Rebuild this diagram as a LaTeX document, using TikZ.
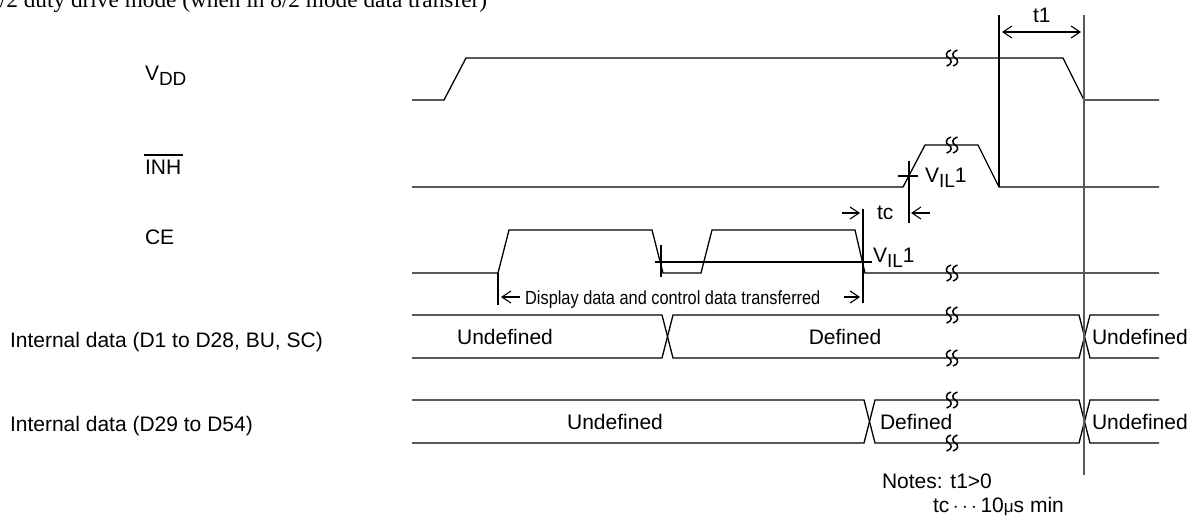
\documentclass[tikz,border=0pt]{standalone}
\usepackage{fontspec}
\setmainfont{Liberation Sans}
\newfontfamily\seriffont{Liberation Serif}
\usetikzlibrary{arrows.meta}
\tikzset{
  sig/.style={line width=1.3pt, line join=miter},
  guide/.style={line width=1.1pt},
  guidegray/.style={line width=1.3pt, draw=black!65},
  lbl/.style={inner sep=0pt, outer sep=0pt, anchor=base west, font=\fontsize{21}{25}\selectfont},
  lblc/.style={inner sep=0pt, outer sep=0pt, anchor=base, font=\fontsize{21}{25}\selectfont},
  barb/.tip={Straight Barb[length=9pt,width=12pt,line width=1.1pt]},
  arr/.style={-barb, line width=1.1pt},
  darr/.style={barb-barb, line width=1.1pt},
  brk/.pic={
    \foreach \dx in {-3.2,3.2}{
      \draw[line width=1.5pt] (\dx+2.2,-8) .. controls (\dx-3.5,-6.5) and (\dx-3.5,-1.5) .. (\dx,0)
        .. controls (\dx+3.5,1.5) and (\dx+3.5,6.5) .. (\dx-2.2,8);
    }
  }
}
\newcommand{\lsub}[1]{\raisebox{-5pt}{\fontsize{19}{22}\selectfont #1}}
\begin{document}
\begin{tikzpicture}[x=1pt,y=-1pt]
\useasboundingbox (0,0) rectangle (1200,517);
% title (partly cut off at the top)
\node[inner sep=0pt, anchor=base west, font=\seriffont\fontsize{23.3}{27}\selectfont] (title) at (-12,7) {1/2 duty drive mode (when in 8/2 mode data transfer)};

% signal labels
\node[lbl] (lvdd) at (145,80) {V\lsub{DD}};
\node[lbl] (linh) at (145,174) {INH};
\draw[line width=1.1pt] (144,155) -- (183,155);
\node[lbl] (lce) at (145,244) {CE};
\node[lbl] (lint1) at (10,347) {Internal data (D1 to D28, BU, SC)};
\node[lbl] (lint2) at (10,431) {Internal data (D29 to D54)};

% VDD
\draw[sig] (412,100) -- (444,100) -- (466,58) -- (1063,58) -- (1084,100) -- (1159,100);
\pic at (952,58) {brk};
% INH
\draw[sig] (412,187) -- (903,187) -- (925,145) -- (978,145) -- (999,187) -- (1159,187);
\pic at (952,145) {brk};
% CE
\draw[sig] (412,273) -- (498,273) -- (509,230) -- (652,230) -- (663,273) -- (701,273) -- (712,230) -- (855,230) -- (865,273) -- (1159,273);
\pic at (952,273) {brk};

% Internal data row 1
\draw[sig] (412,315) -- (662,315) -- (673,358) -- (1079,358) -- (1090,315) -- (1159,315);
\draw[sig] (412,358) -- (662,358) -- (673,315) -- (1079,315) -- (1090,358) -- (1159,358);
\pic at (952,315) {brk};
\pic at (952,358) {brk};
% Internal data row 2
\draw[sig] (412,400) -- (864,400) -- (875,443) -- (1079,443) -- (1090,400) -- (1159,400);
\draw[sig] (412,443) -- (864,443) -- (875,400) -- (1079,400) -- (1090,443) -- (1159,443);
\pic at (952,400) {brk};
\pic at (952,443) {brk};

% data texts
\node[lblc] (u1) at (505,344.5) {Undefined};
\node[lblc] (d1) at (845,344.5) {Defined};
\node[lbl] (u1r) at (1092,344.5) {Undefined};
\node[lblc] (u2) at (615,429) {Undefined};
\node[lbl] (d2) at (880,429) {Defined};
\node[lbl] (u2r) at (1092,429) {Undefined};

% t1 guides
\draw[guide] (999,15) -- (999,187);
\draw[guidegray] (1084,15) -- (1084,475);
\draw[darr] (1002,32) -- (1081,32);
\node[lbl] (t1) at (1033,22) {t1};

% INH VIL1 mark
\draw[guide] (898,176) -- (918,176);
\draw[guide] (909,161) -- (909,223);
\node[lbl] (vil1a) at (925,182) {V\lsub{IL}1};

% CE VIL1 mark
\draw[guide] (655,262) -- (872,262);
\draw[guide] (661,245) -- (661,277);
\node[lbl] (vil1b) at (873,262) {V\lsub{IL}1};

% tc
\draw[guide] (863,209) -- (863,303);
\draw[arr] (842,213) -- (860,213);
\node[lbl] (tc) at (877,219) {tc};
\draw[arr] (930,213) -- (911,213);

% display data transferred
\draw[guide] (498,273) -- (498,305);
\draw[arr] (520,297) -- (501,297);
\node[inner sep=0pt, anchor=base west, font=\fontsize{19}{22}\selectfont, xscale=0.86] (disp) at (525,304) {Display data and control data transferred};
\draw[arr] (844,297) -- (860,297);

% notes
\node[lbl] (n1) at (882,488) {Notes: t1>0};
\node[lbl] (n2) at (933,512) {tc\,$\cdots$\,10\raisebox{0pt}{\fontsize{17}{20}\selectfont μ}s min};
\end{tikzpicture}
\end{document}
